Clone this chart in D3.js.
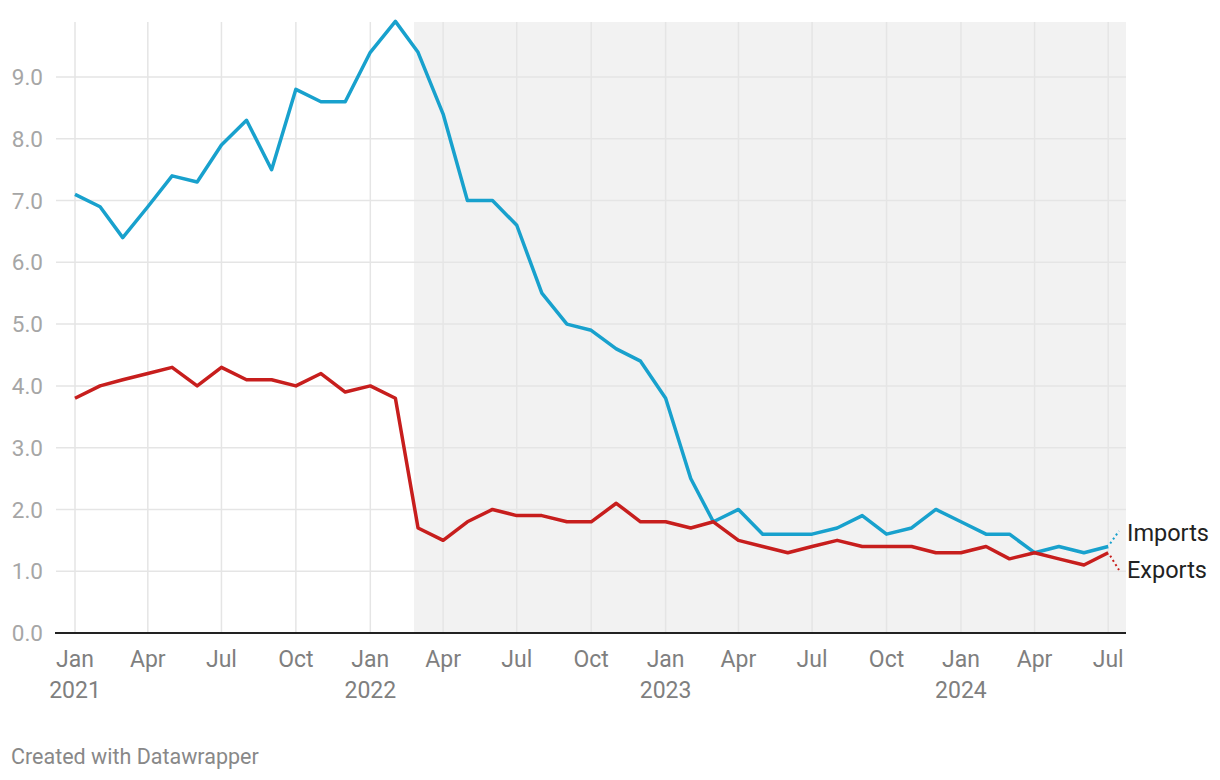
<!DOCTYPE html>
<html><head><meta charset="utf-8">
<script src="https://cdn.jsdelivr.net/npm/d3@7"></script>
<style>
body{margin:0;background:#fff;font-family:Roboto,"Noto Sans",sans-serif;}
svg text{font-family:Roboto,"Noto Sans",sans-serif;}
</style></head>
<body><svg id="c" width="1220" height="780"></svg>
<script>
const months = d3.timeMonths(new Date(2021,0,1), new Date(2024,7,1)); // Jan 2021 .. Jul 2024
const imports = [7.1,6.9,6.4,6.9,7.4,7.3,7.9,8.3,7.5,8.8,8.6,8.6,
  9.4,9.9,9.4,8.4,7.0,7.0,6.6,5.5,5.0,4.9,4.6,4.4,
  3.8,2.5,1.8,2.0,1.6,1.6,1.6,1.7,1.9,1.6,1.7,2.0,
  1.8,1.6,1.6,1.3,1.4,1.3,1.4];
const exports_ = [3.8,4.0,4.1,4.2,4.3,4.0,4.3,4.1,4.1,4.0,4.2,3.9,
  4.0,3.8,1.7,1.5,1.8,2.0,1.9,1.9,1.8,1.8,2.1,1.8,
  1.8,1.7,1.8,1.5,1.4,1.3,1.4,1.5,1.4,1.4,1.4,1.3,
  1.3,1.4,1.2,1.3,1.2,1.1,1.3];
const yTicks = [0,1,2,3,4,5,6,7,8,9];
const seriesNames = ["Imports","Exports"];
const seriesColors = ["#18a1cd","#c71e1d"];
const shadeStart = new Date(2022,1,24);
const monthNames = ["Jan","Feb","Mar","Apr","May","Jun","Jul","Aug","Sep","Oct","Nov","Dec"];

const svg = d3.select("#c");
const x = d3.scaleTime().domain([new Date(2021,0,1), new Date(2024,6,23)]).range([75,1126]);
const y = d3.scaleLinear().domain([0,9.9]).range([633,21.4]);
const plotTop = 22;

// shading
svg.append("rect").attr("x", x(shadeStart)).attr("y", plotTop)
  .attr("width", x.range()[1]-x(shadeStart)).attr("height", y(0)-plotTop).attr("fill","#f2f2f2");

// horizontal grid
svg.append("g").selectAll("line").data(yTicks.slice(1)).join("line")
  .attr("x1",56).attr("x2",1126).attr("y1",d=>y(d)).attr("y2",d=>y(d))
  .attr("stroke","#e5e5e5").attr("stroke-width",1.5);
// vertical grid
const qTicks = d3.timeMonth.every(3).range(new Date(2021,0,1), new Date(2024,7,1));
svg.append("g").selectAll("line").data(qTicks).join("line")
  .attr("x1",d=>x(d)).attr("x2",d=>x(d)).attr("y1",plotTop).attr("y2",633)
  .attr("stroke","#e5e5e5").attr("stroke-width",1.5);

// y labels
svg.append("g").selectAll("text").data(yTicks).join("text")
  .attr("x",43).attr("y",d=>y(d)).attr("dy","0.36em").attr("text-anchor","end")
  .attr("font-size",22.5).attr("fill","#a6a6a6").text(d=>d.toFixed(1));

// x labels
const xl = svg.append("g");
xl.selectAll("text.m").data(qTicks).join("text").attr("class","m")
  .attr("x",d=>x(d)).attr("y",667).attr("text-anchor","middle")
  .attr("font-size",23).attr("fill","#7f7f7f").text(d=>monthNames[d.getMonth()]);
xl.selectAll("text.yr").data(qTicks.filter(d=>d.getMonth()===0)).join("text").attr("class","yr")
  .attr("x",d=>x(d)).attr("y",697.5).attr("text-anchor","middle")
  .attr("font-size",23).attr("fill","#7f7f7f").text(d=>d.getFullYear());

// baseline
svg.append("line").attr("x1",55).attr("x2",1126).attr("y1",y(0)).attr("y2",y(0))
  .attr("stroke","#222").attr("stroke-width",2);

// lines
const line = d3.line().x((d,i)=>x(months[i])).y(d=>y(d));
[imports, exports_].forEach((s,k)=>{
  svg.append("path").datum(s).attr("d",line).attr("fill","none")
    .attr("stroke",seriesColors[k]).attr("stroke-width",3.5).attr("stroke-linejoin","round");
});

// labels with dotted connectors
const lastX = x(months[months.length-1]);
const labelY = [533, 570];
[imports, exports_].forEach((s,k)=>{
  const ly = y(s[s.length-1]);
  svg.append("line").attr("x1",lastX+2).attr("y1",ly + (k===0?-3:3))
    .attr("x2",1119).attr("y2",labelY[k] + (k===0?-2:0))
    .attr("stroke",seriesColors[k]).attr("stroke-width",2).attr("stroke-dasharray","2,3");
  svg.append("text").attr("x",1127).attr("y",labelY[k]).attr("dy","0.35em")
    .attr("font-size",23.5).attr("fill","#222").text(seriesNames[k]);
});

svg.append("text").attr("x",11).attr("y",764).attr("font-size",21.5).attr("fill","#888")
  .text("Created with Datawrapper");
</script></body></html>
